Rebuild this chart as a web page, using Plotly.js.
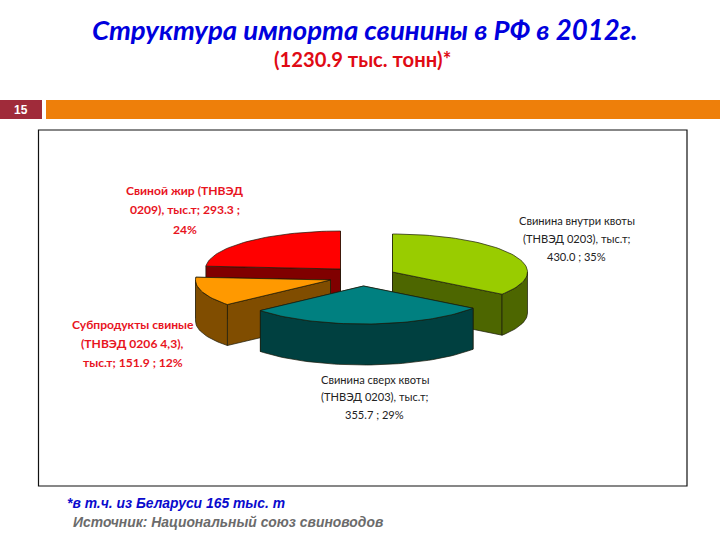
<!DOCTYPE html>
<html><head><meta charset="utf-8">
<script src="https://cdn.plot.ly/plotly-3.0.1.min.js"></script>
<style>html,body{margin:0;padding:0;background:#fff}#c{width:720px;height:540px}</style>
</head><body><div id="c"></div>
<script>
const categories = ["Свинина внутри квоты","Свинина сверх квоты","Субпродукты свиные","Свиной жир"];
const values = [430.0, 355.7, 151.9, 293.3];
const percents = [35, 29, 12, 24];
const labelLines = [
  ["Свинина внутри квоты","(ТНВЭД 0203), тыс.т;","430.0 ; 35%"],
  ["Свинина сверх квоты","(ТНВЭД 0203), тыс.т;","355.7 ; 29%"],
  ["Субпродукты свиные","(ТНВЭД 0206 4,3),","тыс.т; 151.9 ; 12%"],
  ["Свиной жир (ТНВЭД","0209), тыс.т; 293.3 ;","24%"]
];
const topColors = ["#99CC00","#008080","#FF9900","#FF0000"];
const sideColors = ["#4D6600","#004040","#804D00","#800000"];
const labelColors = ["#222222","#222222","#E8141E","#E8141E"];

// pie projection
const apexes = [[392.5,272],[363.5,286],[330.5,280],[340.5,269]];
const rx = 135, ry = 38, depth = 41;
const labelPos = [[576.5,220,18],[374.5,379,17.5],[132.5,324,19.4],[184.5,190.5,19.4]];
const labelSizes = [11.1,11.1,12.1,12.1];
const drawOrder = [3,2,0,1];

const pt = (c,a,d=0)=>{const r=a*Math.PI/180;return [c[0]+rx*Math.sin(r), c[1]-ry*Math.cos(r)+d];};
const arc = (c,a1,a2,d=0)=>{const o=[];const n=Math.max(2,Math.ceil(Math.abs(a2-a1)/2));for(let i=0;i<=n;i++)o.push(pt(c,a1+(a2-a1)*i/n,d));return o;};
const total = values.reduce((a,b)=>a+b,0);
let cum = 0;
const spans = values.map(v=>{const s=[cum,cum+v/total*360];cum+=v/total*360;return s;});

const traces = [];
function poly(points,fill,name){
  const closed = points.concat([points[0]]);
  traces.push({type:"scatter",mode:"lines",x:closed.map(p=>p[0]),y:closed.map(p=>p[1]),
    fill:"toself",fillcolor:fill,line:{color:"#1a1a0a",width:0.7},hoverinfo:"skip",showlegend:false,name});
}
drawOrder.forEach(i=>{
  const c = apexes[i], [s,e] = spans[i];
  const edges = [s,e].sort((a,b)=>Math.cos(b*Math.PI/180)-Math.cos(a*Math.PI/180));
  edges.forEach(a=>{
    const r = pt(c,a);
    poly([r,c,[c[0],c[1]+depth],[r[0],r[1]+depth]],sideColors[i],categories[i]);
  });
  const a1=Math.max(s,90), a2=Math.min(e,270);
  if(a2>a1) poly(arc(c,a1,a2).concat(arc(c,a2,a1,depth)),sideColors[i],categories[i]);
  poly([c].concat(arc(c,s,e)),topColors[i],categories[i]);
});

const annotations = [];
const txt=(x,y,text,font)=>annotations.push({x,y,xref:"x",yref:"y",text,showarrow:false,xanchor:"center",yanchor:"middle",font});
labelLines.forEach((lines,i)=>lines.forEach((l,j)=>{
  const p=labelPos[i];
  txt(p[0],p[1]+j*p[2],l,{family:"Lato, 'Open Sans', sans-serif",size:labelSizes[i],color:labelColors[i],weight:i>=2?700:400});
}));
txt(364,29.5,"<b><i>Структура импорта свинины в РФ в 2012г.</i></b>",{family:"Lato, 'Open Sans', sans-serif",size:27.6,color:"#0000DD"});
txt(362.5,59,"<b>(1230.9 тыс. тонн)*</b>",{family:"Lato, 'Open Sans', sans-serif",size:20.2,color:"#E00A14"});
txt(21,109.5,"<b>15</b>",{family:"Liberation Sans, Arial, sans-serif",size:12,color:"#FFFFFF"});
annotations.push({x:65,y:503,xref:"x",yref:"y",xanchor:"left",yanchor:"middle",showarrow:false,text:"<b><i>*в т.ч. из Беларуси 165 тыс. т</i></b>",font:{family:"Liberation Sans, Arial, sans-serif",size:13.9,color:"#0A0ACD"}});
annotations.push({x:71,y:521.5,xref:"x",yref:"y",xanchor:"left",yanchor:"middle",showarrow:false,text:"<b><i>Источник: Национальный союз свиноводов</i></b>",font:{family:"Liberation Sans, Arial, sans-serif",size:13.9,color:"#6B6B6B"}});

const shapes = [
  {type:"rect",xref:"x",yref:"y",x0:38.5,x1:687,y0:130,y1:486,line:{color:"#111",width:1.2},fillcolor:"#fff",layer:"below"},
  {type:"rect",xref:"x",yref:"y",x0:0,x1:42,y0:100,y1:119,line:{width:0},fillcolor:"#A02B3A",layer:"below"},
  {type:"rect",xref:"x",yref:"y",x0:46,x1:720,y0:100,y1:119,line:{width:0},fillcolor:"#EE7F0A",layer:"below"}
];
Plotly.newPlot("c",traces,{
  width:720,height:540,margin:{l:0,r:0,t:0,b:0},paper_bgcolor:"#fff",plot_bgcolor:"#fff",showlegend:false,
  xaxis:{range:[0,720],visible:false,fixedrange:true},
  yaxis:{range:[540,0],visible:false,fixedrange:true},
  shapes,annotations
},{displayModeBar:false,staticPlot:true});
</script></body></html>
